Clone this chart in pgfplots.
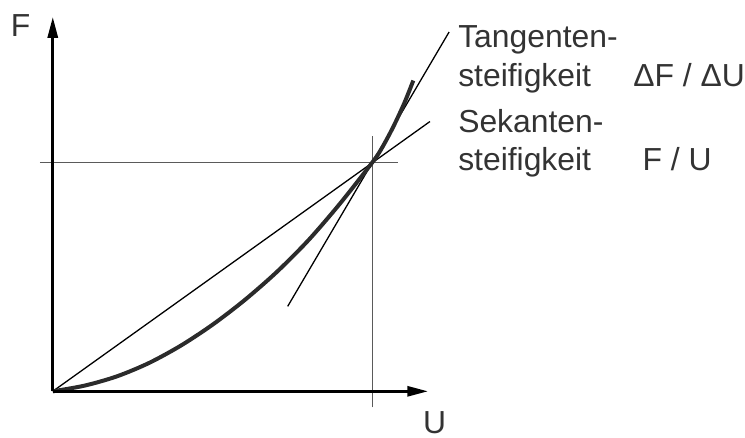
\documentclass[border=0pt]{standalone}
\usepackage{pgfplots}
\pgfplotsset{compat=1.18}
\usetikzlibrary{arrows.meta}
\usepackage{fontspec}
\setmainfont{Liberation Sans}

\definecolor{curve}{HTML}{2B2B2B}
\definecolor{thin}{HTML}{262626}
\definecolor{cross}{HTML}{5A5A5A}
\definecolor{txt}{HTML}{333333}

\tikzset{lbl/.style={font=\fontsize{32}{32}\selectfont, text=txt, inner sep=0pt, anchor=base west}}

\begin{document}
\begin{tikzpicture}
\begin{axis}[
  width=745pt, height=439pt, scale only axis,
  xmin=-0.16511, xmax=2.15576,
  ymin=-0.2, ymax=1.70870,
  axis lines=none, xtick=\empty, ytick=\empty, clip=false,
]
% keep the full drawing area
\path (rel axis cs:0,0) rectangle (rel axis cs:1,1);

% reference lines through the working point (U, F) = (1, 1)
\addplot[cross, line width=1.5pt] coordinates {(-0.0405,1) (1.081,1)};
\addplot[cross, line width=1.5pt] coordinates {(1,-0.0696) (1,1.117)};

% secant and tangent
\addplot[thin, line width=1.3pt] coordinates {(0,0) (1.18,1.178)};
\addplot[thin, line width=1.3pt] coordinates {(0.735,0.371) (1.240,1.569)};

% force-displacement curve
\addplot[curve, line width=4pt, smooth, tension=0.5] coordinates {
  (0,0) (0.1,0.025) (0.2,0.065) (0.3,0.123) (0.4,0.199) (0.5,0.291)
  (0.6,0.398) (0.7,0.52) (0.8,0.66) (0.9,0.822) (1.0,1.0)
  (1.03,1.063) (1.065,1.154) (1.1,1.259) (1.128,1.357)
};

% axes
\addplot[black, line width=3pt, -{Triangle[length=21pt,width=10pt]}] coordinates {(0,0) (0,1.635)};
\addplot[black, line width=3pt, -{Triangle[length=21pt,width=10pt]}] coordinates {(0,0) (1.1745,0)};

% labels
\node[lbl] at (axis cs:-0.132,1.548) {F};
\node[lbl] at (axis cs:1.158,-0.183) {U};
\node[lbl] at (axis cs:1.268,1.500) {Tangenten-};
\node[lbl] at (axis cs:1.268,1.330) {steifigkeit};
\node[lbl] at (axis cs:1.816,1.330) {ΔF / ΔU};
\node[lbl] at (axis cs:1.268,1.130) {Sekanten-};
\node[lbl] at (axis cs:1.268,0.965) {steifigkeit};
\node[lbl] at (axis cs:1.845,0.965) {F / U};
\end{axis}
\end{tikzpicture}
\end{document}
